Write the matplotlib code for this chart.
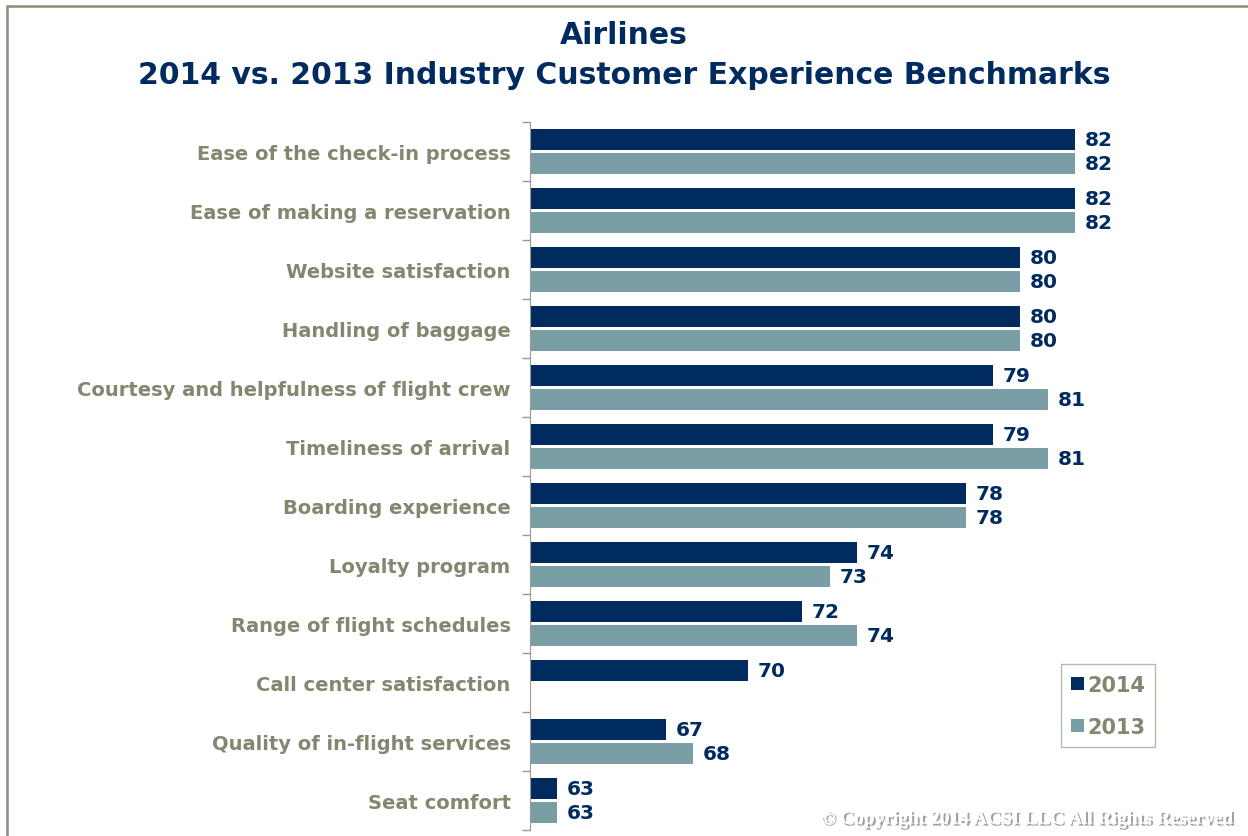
import matplotlib.pyplot as plt
import matplotlib.patheffects as pe
from matplotlib.patches import Rectangle
import numpy as np

categories = ['Ease of the check-in process', 'Ease of making a reservation',
              'Website satisfaction', 'Handling of baggage',
              'Courtesy and helpfulness of flight crew', 'Timeliness of arrival',
              'Boarding experience', 'Loyalty program', 'Range of flight schedules',
              'Call center satisfaction', 'Quality of in-flight services', 'Seat comfort']
scores_2014 = [82, 82, 80, 80, 79, 79, 78, 74, 72, 70, 67, 63]
scores_2013 = [82, 82, 80, 80, 81, 81, 78, 73, 74, np.nan, 68, 63]

navy = '#002B5F'
teal = '#7A9EA6'
olive = '#84866F'

plt.rcParams['font.family'] = ['DejaVu Sans']

fig = plt.figure(figsize=(12.48, 8.37), dpi=100)
ax = fig.add_axes([530 / 1248, 1 - 831 / 837, 1 - 530 / 1248, (831 - 123) / 837])

y = np.arange(len(categories))
h = 0.365
off = 0.2
ax.barh(y - off, scores_2014, height=h, color=navy, label='2014')
ax.barh(y + off, scores_2013, height=h, color=teal, label='2013')

for yi, v in zip(y, scores_2014):
    ax.text(v + 0.35, yi - off, str(v), va='center', ha='left', color=navy,
            fontsize=14.5, fontweight='bold')
for yi, v in zip(y, scores_2013):
    if np.isnan(v):
        continue
    ax.text(v + 0.35, yi + off, str(int(v)), va='center', ha='left', color=navy,
            fontsize=14.5, fontweight='bold')

ax.set_xlim(62, 88.35)
ax.set_ylim(len(categories) - 0.5, -0.5)
ax.set_xticks([])
ax.set_yticks(y)
ax.set_yticklabels(categories, color=olive, fontsize=14, fontweight='bold')
for lab in ax.get_yticklabels():
    lab.set_va('center_baseline')
ax.set_yticks(np.arange(len(categories) + 1) - 0.5, minor=True)
ax.tick_params(axis='y', which='major', length=0, pad=14)
ax.tick_params(axis='y', which='minor', length=6, color='#999999', width=1)
for s in ['top', 'right', 'bottom']:
    ax.spines[s].set_visible(False)
ax.spines['left'].set_color('#999999')

leg = ax.legend(loc='lower left', bbox_to_anchor=((1061 - 530) / 718, (831 - 748) / 708),
                borderaxespad=0, frameon=True, fancybox=False, fontsize=15,
                handlelength=0.6, handleheight=0.6, handletextpad=0.15,
                labelspacing=1.05, borderpad=0.5, edgecolor='#A8A898')
for t in leg.get_texts():
    t.set_color(olive)
    t.set_fontweight('bold')

fig.text(0.5, 1 - 35 / 837, 'Airlines', ha='center', va='center', color=navy,
         fontsize=21.5, fontweight='bold')
fig.text(0.5, 1 - 75 / 837, '2014 vs. 2013 Industry Customer Experience Benchmarks',
         ha='center', va='center', color=navy, fontsize=21.5, fontweight='bold')

fig.text(1235 / 1248, 1 - 820 / 837, '\u00a9 Copyright 2014 ACSI LLC All Rights Reserved',
         ha='right', va='center', color='white', fontsize=14, fontweight='bold',
         family='Liberation Serif',
         path_effects=[pe.withSimplePatchShadow(offset=(1.5, -1.5), shadow_rgbFace='#888888', alpha=0.8),
                       pe.Normal()])

fig.patches.append(Rectangle((7 / 1248, -0.05), 1.1, 1 - 7 / 837 + 0.05,
                             transform=fig.transFigure, fill=False,
                             edgecolor='#8C8C78', linewidth=1.8))

fig.savefig('out.png', dpi=100)
